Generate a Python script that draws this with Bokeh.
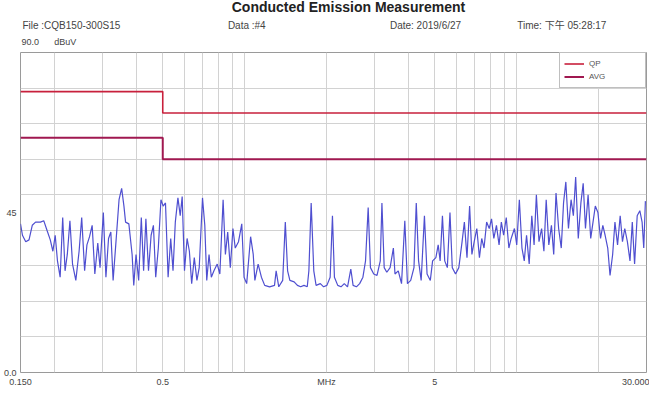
from bokeh.plotting import figure
from bokeh.layouts import column
from bokeh.models import Label, Legend, LegendItem, FixedTicker, Range1d
from bokeh.embed import file_html
from bokeh.resources import INLINE

# ---------------- data ----------------
freq_mhz = [
    0.150, 0.1525, 0.1568, 0.1612, 0.1657, 0.1704, 0.1776, 0.1826, 0.1877, 0.1930,
    0.1973, 0.2012, 0.2051, 0.2098, 0.2144, 0.2187, 0.2229, 0.2279, 0.2330, 0.2396,
    0.2463, 0.2518, 0.2581, 0.2632, 0.2691, 0.2751, 0.2814, 0.2885, 0.2941, 0.3024,
    0.3091, 0.3160, 0.3222, 0.3285, 0.3359, 0.3454, 0.3531, 0.3600, 0.3650, 0.3753,
    0.3858, 0.3912, 0.3988, 0.4078, 0.4170, 0.4252, 0.4335, 0.4432, 0.4531, 0.4620,
    0.4711, 0.4816, 0.4924, 0.5019, 0.5117, 0.5232, 0.5349, 0.5454, 0.5561, 0.5685,
    0.5797, 0.5894, 0.6010, 0.6144, 0.6264, 0.6387, 0.6530, 0.6677, 0.6808, 0.7000,
    0.7137, 0.7256, 0.7398, 0.7543, 0.7712, 0.7929, 0.8107, 0.8334, 0.8497, 0.8664,
    0.8858, 0.9057, 0.9234, 0.9494, 0.9760, 0.9951, 1.0174, 1.0518, 1.0754, 1.0904,
    1.1210, 1.1525, 1.1849, 1.2352, 1.2876, 1.3055, 1.3348, 1.3799, 1.4108, 1.4384,
    1.4666, 1.5204, 1.5631, 1.6070, 1.6522, 1.6986, 1.7223, 1.7560, 1.7954, 1.8306,
    1.8977, 1.9510, 2.0058, 2.0622, 2.1026,
    2.138, 2.199, 2.260, 2.324, 2.389, 2.456, 2.504, 2.575, 2.647, 2.721,
    2.782, 2.845, 2.900, 2.982, 3.066, 3.152, 3.196, 3.258, 3.331, 3.425,
    3.521, 3.570, 3.670, 3.773, 3.879, 3.966, 4.078, 4.192, 4.274, 4.358,
    4.455, 4.580, 4.683, 4.814, 4.908, 5.046, 5.145, 5.231, 5.334, 5.438,
    5.560, 5.685, 5.797, 5.959, 6.127, 6.299, 6.422, 6.566, 6.713, 6.845,
    6.979, 7.135, 7.295, 7.438, 7.583, 7.753, 7.927, 8.082, 8.240, 8.425,
    8.614, 8.782, 8.954, 9.155, 9.360, 9.543, 9.811, 10.003, 10.227, 10.456,
    10.661, 10.870, 11.114, 11.363, 11.586, 11.812, 12.077, 12.348, 12.590, 12.836,
    13.124, 13.418, 13.681, 13.949, 14.262, 14.581, 14.867, 15.158, 15.498, 15.845,
    16.155, 16.472, 16.841, 17.218, 17.555, 17.899, 18.300, 18.710, 19.077, 19.451,
    19.887, 20.332, 20.731, 21.137, 21.610, 22.034, 22.527, 22.968, 23.483, 24.009,
    24.479, 24.959, 25.518, 26.090, 26.601, 27.122, 27.729, 28.351, 28.906, 29.310,
    29.72,
]
level_dbuv = [
    41.8, 38.6, 36.8, 37.3, 41.4, 42.3, 42.3, 42.7, 40.0, 37.3,
    34.1, 38.6, 31.4, 26.8, 43.6, 28.6, 33.2, 42.7, 30.5, 25.9,
    34.1, 43.6, 28.6, 35.9, 38.2, 41.4, 27.7, 36.4, 29.5, 45.0,
    26.8, 37.7, 39.5, 25.9, 35.9, 48.6, 51.8, 46.8, 42.3, 41.8,
    33.2, 24.5, 33.2, 25.9, 43.6, 28.6, 43.2, 28.6, 38.6, 41.4,
    26.8, 35.0, 48.6, 46.8, 47.7, 26.8, 37.7, 28.6, 42.3, 49.1,
    44.1, 49.5, 28.6, 37.7, 34.1, 25.0, 32.3, 25.9, 29.5, 49.1,
    41.4, 25.9, 33.2, 26.8, 28.6, 30.5, 27.7, 48.6, 33.2, 39.5,
    29.5, 40.5, 35.0, 36.8, 41.8, 26.8, 25.0, 38.2, 33.2, 25.9,
    30.5, 26.8, 24.5, 24.1, 24.5, 28.6, 24.1, 25.9, 42.3, 28.6,
    25.9, 25.5, 24.5, 24.1, 24.5, 24.1, 28.6, 47.7, 28.6, 24.5,
    25.0, 24.1, 24.5, 26.8, 44.1,
    26.8, 24.5, 24.1, 25.0, 24.1, 29.1, 24.5, 24.1, 25.0, 26.8,
    31.4, 46.4, 29.5, 27.7, 27.3, 31.4, 47.7, 29.5, 28.2, 29.5,
    35.0, 27.7, 28.6, 25.0, 42.7, 25.0, 25.9, 29.5, 47.7, 31.4,
    25.9, 44.1, 27.7, 25.9, 31.4, 32.3, 35.9, 31.4, 44.1, 31.4,
    29.5, 45.0, 29.5, 27.7, 29.5, 36.8, 42.3, 32.3, 46.8, 33.2,
    36.8, 40.5, 32.3, 37.7, 35.0, 42.3, 40.5, 43.2, 37.7, 41.4,
    35.9, 42.3, 38.6, 43.6, 35.0, 37.7, 40.5, 35.9, 48.6, 35.0,
    31.4, 38.6, 30.5, 44.1, 35.9, 50.0, 36.8, 40.5, 34.1, 48.6,
    35.9, 41.4, 33.2, 50.5, 40.5, 35.0, 47.7, 53.6, 40.5, 48.6,
    44.1, 55.0, 37.7, 47.7, 53.2, 40.5, 50.0, 37.7, 42.3, 46.8,
    45.0, 37.7, 41.4, 38.6, 35.0, 27.3, 33.2, 42.3, 35.9, 44.1,
    36.8, 40.5, 36.8, 31.4, 42.3, 30.5, 44.1, 45.5, 42.3, 35.0,
    48.2,
]

qp_freq = [0.15, 0.5, 0.5, 30.0]
qp_level = [79.0, 79.0, 73.0, 73.0]
avg_freq = [0.15, 0.5, 0.5, 30.0]
avg_level = [66.0, 66.0, 60.0, 60.0]

x_tick_values = [0.15, 0.5, 2.0, 5.0, 30.0]
x_tick_labels = ["0.150", "0.5", "MHz", "5", "30.000"]
y_tick_values = [0.0, 45.0]
y_tick_labels = ["0.0", "45"]
y_top_label = "90.0"
x_grid = [0.2, 0.3, 0.4, 0.5, 0.6, 0.7, 0.8, 0.9, 1, 2, 3, 4, 5, 6, 7, 8, 9, 10, 20]
y_grid = [10, 20, 30, 40, 50, 60, 70, 80]

title_text = "Conducted Emission Measurement"
header_texts = ["File :CQB150-300S15", "Data :#4", "Date: 2019/6/27", "Time: 下午 05:28:17"]
unit_text = "dBuV"

FONT = "Liberation Sans, Noto Sans CJK SC"
AX_FONT = "Liberation Sans"
TEXT_COLOR = "#444444"
W = 649
HEAD_H = 51
MAIN_H = 338

# ---------------- header strip (title + info rows) ----------------
head = figure(width=W, height=HEAD_H, x_range=Range1d(0, W), y_range=Range1d(HEAD_H, 0),
              x_axis_location=None, y_axis_location=None,
              output_backend="svg", toolbar_location=None,
              min_border_left=0, min_border_right=0, min_border_top=0, min_border_bottom=0)
head.outline_line_color = None
head.xgrid.visible = False
head.ygrid.visible = False


def head_label(x, y, text, size="10px", align="left", bold=False, color=TEXT_COLOR):
    head.add_layout(Label(x=x, y=y, text=text, text_font=FONT, text_font_size=size,
                          text_align=align, text_baseline="middle", text_color=color,
                          text_font_style="bold" if bold else "normal"))


head_label(340, 6, title_text, size="14px", align="center", bold=True, color="#222222")
for px, txt in zip([2, 215, 383, 515], header_texts):
    head_label(px, 25, txt)
head_label(1, 41, y_top_label, size="9px")
head_label(35, 41, unit_text, size="9px")

# ---------------- main chart ----------------
p = figure(width=W, height=MAIN_H, x_axis_type="log", x_range=(0.15, 30.0), y_range=(0.0, 90.0),
           output_backend="svg", toolbar_location=None,
           min_border_left=17, min_border_right=3, min_border_top=1, min_border_bottom=0)
p.title.visible = False
p.outline_line_color = "#9a9a9a"
p.outline_line_width = 1

p.xgrid.ticker = FixedTicker(ticks=x_grid)
p.ygrid.ticker = FixedTicker(ticks=y_grid)
for g in (p.xgrid, p.ygrid):
    g.grid_line_color = "#d2d2d2"
    g.grid_line_width = 1

for ax in (p.xaxis[0], p.yaxis[0]):
    ax.axis_line_color = None
    ax.major_tick_line_color = None
    ax.minor_tick_line_color = None
    ax.major_tick_out = 0
    ax.major_tick_in = 0
    ax.minor_tick_out = 0
    ax.minor_tick_in = 0
    ax.axis_label_standoff = 0
    ax.major_label_text_font = AX_FONT
    ax.major_label_text_font_size = "9px"
    ax.major_label_text_color = TEXT_COLOR

p.xaxis[0].ticker = FixedTicker(ticks=x_tick_values)
p.xaxis[0].major_label_overrides = dict(zip(x_tick_values, x_tick_labels))
p.xaxis[0].major_label_standoff = 4
p.yaxis[0].ticker = FixedTicker(ticks=y_tick_values)
p.yaxis[0].major_label_overrides = dict(zip(y_tick_values, y_tick_labels))
p.yaxis[0].major_label_standoff = 4

trace = p.line(freq_mhz, level_dbuv, line_color="#4f4fd0", line_width=1.2)
qp = p.line(qp_freq, qp_level, line_color="#c8203c", line_width=1.6)
avg = p.line(avg_freq, avg_level, line_color="#a01850", line_width=2.0)

legend = Legend(items=[LegendItem(label="QP", renderers=[qp]),
                       LegendItem(label="AVG", renderers=[avg])],
                location="top_right", margin=0, padding=4, spacing=0,
                glyph_width=20, glyph_height=13, label_height=13, label_width=52,
                label_text_font=AX_FONT, label_text_font_size="8px",
                label_text_color="#555555", border_line_color="#808080",
                background_fill_alpha=1.0)
p.add_layout(legend, "center")

layout = column(head, p, spacing=0)
open("out.html", "w").write(file_html(layout, INLINE))
